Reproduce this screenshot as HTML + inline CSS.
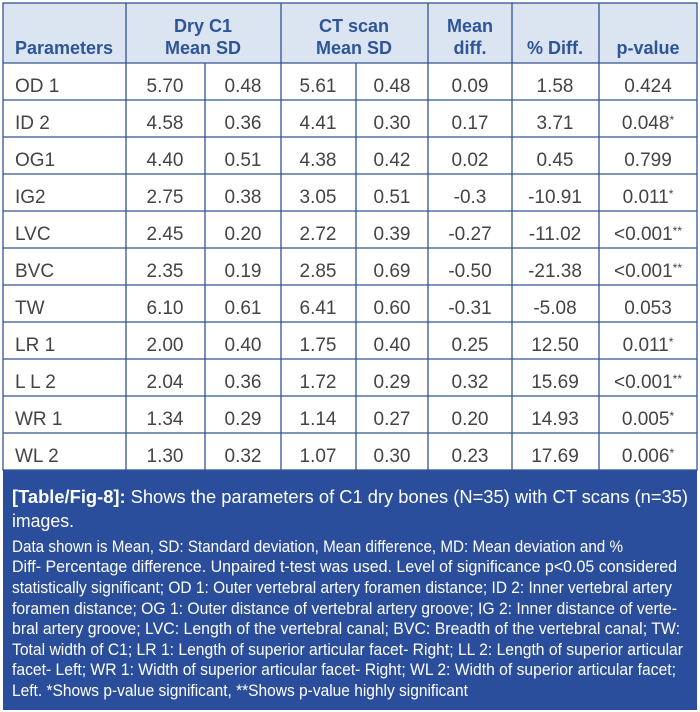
<!DOCTYPE html>
<html><head><meta charset="utf-8"><style>
html,body{margin:0;padding:0;background:#fff;width:700px;height:712px;overflow:hidden}
svg{display:block}
.h{font-family:"Liberation Sans",sans-serif;font-weight:bold;font-size:18px;fill:#2e5597}
.b{font-family:"Liberation Sans",sans-serif;font-size:19px;fill:#444}
.c{font-family:"Liberation Sans",sans-serif;font-size:16.5px;fill:#fff}
.s{font-size:12px}
</style></head><body>
<svg width="700" height="712" viewBox="0 0 700 712" xmlns="http://www.w3.org/2000/svg">
<rect x="3" y="3" width="694" height="60" fill="#dbe4f1"/>
<rect x="3" y="470" width="694" height="240" fill="#2a4e9b"/>
<g stroke="#33548f" stroke-width="1.3" fill="none">
<rect x="3" y="3" width="694" height="467"/>
<line x1="3" y1="63" x2="697" y2="63"/>
<line x1="3" y1="100" x2="697" y2="100"/><line x1="3" y1="137" x2="697" y2="137"/>
<line x1="3" y1="174" x2="697" y2="174"/><line x1="3" y1="211" x2="697" y2="211"/>
<line x1="3" y1="248" x2="697" y2="248"/><line x1="3" y1="285" x2="697" y2="285"/>
<line x1="3" y1="322" x2="697" y2="322"/><line x1="3" y1="359" x2="697" y2="359"/>
<line x1="3" y1="396" x2="697" y2="396"/><line x1="3" y1="433" x2="697" y2="433"/>
<line x1="126" y1="3" x2="126" y2="470"/><line x1="281" y1="3" x2="281" y2="470"/>
<line x1="428" y1="3" x2="428" y2="470"/><line x1="512" y1="3" x2="512" y2="470"/>
<line x1="599" y1="3" x2="599" y2="470"/>
<line x1="205" y1="63" x2="205" y2="470"/><line x1="356" y1="63" x2="356" y2="470"/>
</g>
<g class="h" text-anchor="middle">
<text x="15" y="54" text-anchor="start">Parameters</text>
<text x="203" y="32">Dry C1</text><text x="203" y="54">Mean SD</text>
<text x="354" y="32">CT scan</text><text x="354" y="54">Mean SD</text>
<text x="470" y="32">Mean</text><text x="470" y="54">diff.</text>
<text x="555" y="54">% Diff.</text>
<text x="648" y="54">p-value</text>
</g>
<g class="b" text-anchor="middle">
<text x="15" y="92" text-anchor="start">OD 1</text><text x="165" y="92">5.70</text><text x="243" y="92">0.48</text><text x="318" y="92">5.61</text><text x="392" y="92">0.48</text><text x="470" y="92">0.09</text><text x="555" y="92">1.58</text><text x="648" y="92">0.424</text>
<text x="15" y="129" text-anchor="start">ID 2</text><text x="165" y="129">4.58</text><text x="243" y="129">0.36</text><text x="318" y="129">4.41</text><text x="392" y="129">0.30</text><text x="470" y="129">0.17</text><text x="555" y="129">3.71</text><text x="648" y="129">0.048<tspan class="s" dy="-5">*</tspan></text>
<text x="15" y="166" text-anchor="start">OG1</text><text x="165" y="166">4.40</text><text x="243" y="166">0.51</text><text x="318" y="166">4.38</text><text x="392" y="166">0.42</text><text x="470" y="166">0.02</text><text x="555" y="166">0.45</text><text x="648" y="166">0.799</text>
<text x="15" y="203" text-anchor="start">IG2</text><text x="165" y="203">2.75</text><text x="243" y="203">0.38</text><text x="318" y="203">3.05</text><text x="392" y="203">0.51</text><text x="470" y="203">-0.3</text><text x="555" y="203">-10.91</text><text x="648" y="203">0.011<tspan class="s" dy="-5">*</tspan></text>
<text x="15" y="240" text-anchor="start">LVC</text><text x="165" y="240">2.45</text><text x="243" y="240">0.20</text><text x="318" y="240">2.72</text><text x="392" y="240">0.39</text><text x="470" y="240">-0.27</text><text x="555" y="240">-11.02</text><text x="648" y="240">&lt;0.001<tspan class="s" dy="-5">**</tspan></text>
<text x="15" y="277" text-anchor="start">BVC</text><text x="165" y="277">2.35</text><text x="243" y="277">0.19</text><text x="318" y="277">2.85</text><text x="392" y="277">0.69</text><text x="470" y="277">-0.50</text><text x="555" y="277">-21.38</text><text x="648" y="277">&lt;0.001<tspan class="s" dy="-5">**</tspan></text>
<text x="15" y="314" text-anchor="start">TW</text><text x="165" y="314">6.10</text><text x="243" y="314">0.61</text><text x="318" y="314">6.41</text><text x="392" y="314">0.60</text><text x="470" y="314">-0.31</text><text x="555" y="314">-5.08</text><text x="648" y="314">0.053</text>
<text x="15" y="351" text-anchor="start">LR 1</text><text x="165" y="351">2.00</text><text x="243" y="351">0.40</text><text x="318" y="351">1.75</text><text x="392" y="351">0.40</text><text x="470" y="351">0.25</text><text x="555" y="351">12.50</text><text x="648" y="351">0.011<tspan class="s" dy="-5">*</tspan></text>
<text x="15" y="388" text-anchor="start">L L 2</text><text x="165" y="388">2.04</text><text x="243" y="388">0.36</text><text x="318" y="388">1.72</text><text x="392" y="388">0.29</text><text x="470" y="388">0.32</text><text x="555" y="388">15.69</text><text x="648" y="388">&lt;0.001<tspan class="s" dy="-5">**</tspan></text>
<text x="15" y="425" text-anchor="start">WR 1</text><text x="165" y="425">1.34</text><text x="243" y="425">0.29</text><text x="318" y="425">1.14</text><text x="392" y="425">0.27</text><text x="470" y="425">0.20</text><text x="555" y="425">14.93</text><text x="648" y="425">0.005<tspan class="s" dy="-5">*</tspan></text>
<text x="15" y="462" text-anchor="start">WL 2</text><text x="165" y="462">1.30</text><text x="243" y="462">0.32</text><text x="318" y="462">1.07</text><text x="392" y="462">0.30</text><text x="470" y="462">0.23</text><text x="555" y="462">17.69</text><text x="648" y="462">0.006<tspan class="s" dy="-5">*</tspan></text>
</g>
<g class="c">
<text x="12" y="503" style="font-size:18px" textLength="676" lengthAdjust="spacingAndGlyphs"><tspan font-weight="bold">[Table/Fig-8]:</tspan> Shows the parameters of C1 dry bones (N=35) with CT scans (n=35)</text>
<text x="12" y="527" style="font-size:18px" textLength="62" lengthAdjust="spacingAndGlyphs">images.</text>
<text x="12" y="552" textLength="611" lengthAdjust="spacingAndGlyphs">Data shown is Mean, SD: Standard deviation, Mean difference, MD: Mean deviation and %</text>
<text x="12" y="572" textLength="665" lengthAdjust="spacingAndGlyphs">Diff- Percentage difference. Unpaired t-test was used. Level of significance p&lt;0.05 considered</text>
<text x="12" y="593" textLength="660" lengthAdjust="spacingAndGlyphs">statistically significant; OD 1: Outer vertebral artery foramen distance; ID 2: Inner vertebral artery</text>
<text x="12" y="614" textLength="665" lengthAdjust="spacingAndGlyphs">foramen distance; OG 1: Outer distance of vertebral artery groove; IG 2: Inner distance of verte-</text>
<text x="12" y="634" textLength="668" lengthAdjust="spacingAndGlyphs">bral artery groove; LVC: Length of the vertebral canal; BVC: Breadth of the vertebral canal; TW:</text>
<text x="12" y="655" textLength="671" lengthAdjust="spacingAndGlyphs">Total width of C1; LR 1: Length of superior articular facet- Right; LL 2: Length of superior articular</text>
<text x="12" y="675" textLength="664" lengthAdjust="spacingAndGlyphs">facet- Left; WR 1: Width of superior articular facet- Right; WL 2: Width of superior articular facet;</text>
<text x="12" y="696" textLength="456" lengthAdjust="spacingAndGlyphs">Left. *Shows p-value significant, **Shows p-value highly significant</text>
</g>
</svg>
</body></html>
